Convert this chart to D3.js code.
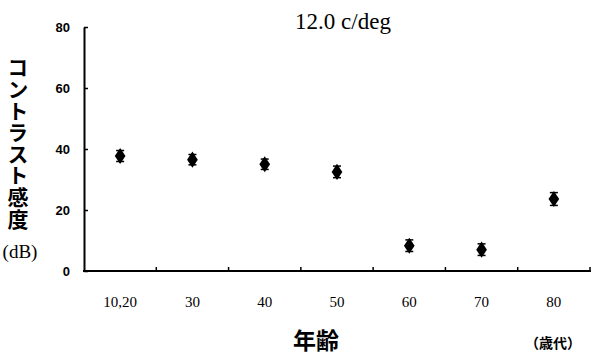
<!DOCTYPE html>
<html><head><meta charset="utf-8">
<script src="https://cdn.jsdelivr.net/npm/d3@7"></script>
<style>body{margin:0;background:#fff}svg{display:block}</style>
</head><body>
<svg id="c" width="600" height="364"></svg>
<script>
const categories = ["10,20","30","40","50","60","70","80"];
const values = [37.7, 36.5, 35.0, 32.5, 8.3, 7.0, 23.6];
const errors = [1.8, 1.7, 1.7, 1.9, 1.9, 1.9, 2.1];
const yTicks = [0,20,40,60,80];
const title = "12.0 c/deg";
const yLabel = "コントラスト感度";

const svg = d3.select("#c");
const x = d3.scaleBand().domain(categories).range([84, 590]);
const y = d3.scaleLinear().domain([0,80]).range([271, 27]);

// axes
const yAxis = d3.axisLeft(y).tickValues(yTicks).tickSize(-4).tickPadding(14).tickSizeOuter(0);
const gy = svg.append("g").attr("transform","translate(84,0)").call(yAxis);
gy.select(".domain").attr("stroke","#000").attr("stroke-width",2);
gy.selectAll(".tick line").attr("stroke","#000").attr("stroke-width",1.5);
gy.selectAll(".tick text").attr("font-family","Liberation Sans, Arial, sans-serif").attr("font-weight","bold").attr("font-size",13).attr("fill","#000");

const boundaries = categories.map(c => x(c) + x.bandwidth());
const gx = svg.append("g").attr("transform","translate(0,271)");
gx.append("line").attr("x1",83).attr("x2",591).attr("y1",0).attr("y2",0).attr("stroke","#000").attr("stroke-width",2);
gx.selectAll("line.t").data(boundaries).join("line").attr("class","t")
  .attr("x1",d=>d).attr("x2",d=>d).attr("y1",0).attr("y2",-4).attr("stroke","#000").attr("stroke-width",1.5);
gx.selectAll("text").data(categories).join("text")
  .attr("x",d=>x(d)+x.bandwidth()/2).attr("y",36).attr("text-anchor","middle")
  .attr("font-family","Liberation Serif, Times New Roman, serif").attr("font-size",15).attr("fill","#000").text(d=>d);

// error bars
const data = categories.map((c,i)=>({c, v:values[i], e:errors[i]}));
const eb = svg.append("g");
data.forEach(d=>{
  const cx = x(d.c)+x.bandwidth()/2;
  eb.append("line").attr("x1",cx).attr("x2",cx).attr("y1",y(d.v+d.e)).attr("y2",y(d.v-d.e)).attr("stroke","#000").attr("stroke-width",1.5);
  [d.v+d.e, d.v-d.e].forEach(v=>eb.append("line").attr("x1",cx-4).attr("x2",cx+4).attr("y1",y(v)).attr("y2",y(v)).attr("stroke","#000").attr("stroke-width",1.5));
});
svg.append("g").selectAll("path").data(data).join("path")
  .attr("d", d3.symbol().type(d3.symbolDiamond).size(75))
  .attr("transform", d=>`translate(${x(d.c)+x.bandwidth()/2},${y(d.v)}) scale(1.15,1)`)
  .attr("fill","#000");

// title
svg.append("text").attr("x",343).attr("y",29).attr("text-anchor","middle")
  .attr("font-family","Liberation Serif, Times New Roman, serif").attr("font-size",23).attr("fill","#000").text(title);

// y label (vertical)
svg.append("text").attr("x",18).attr("y",57)
  .style("writing-mode","vertical-rl").style("glyph-orientation-vertical","0")
  .attr("letter-spacing",0.6)
  .attr("font-family","Noto Sans CJK JP, sans-serif").attr("font-weight","bold").attr("font-size",21).attr("fill","#000").text(yLabel);
svg.append("text").attr("x",20).attr("y",258).attr("text-anchor","middle")
  .attr("font-family","Liberation Serif, Times New Roman, serif").attr("font-size",19).attr("fill","#000").text("(dB)");

// x label
svg.append("text").attr("x",316).attr("y",349).attr("text-anchor","middle")
  .attr("font-family","Noto Sans CJK JP, sans-serif").attr("font-weight","bold").attr("font-size",23).attr("fill","#000").text("年齢");
svg.append("text").attr("x",553).attr("y",348).attr("text-anchor","middle")
  .attr("font-family","Noto Sans CJK JP, sans-serif").attr("font-weight","bold").attr("font-size",14).attr("fill","#000").text("（歳代）");
</script>
</body></html>
